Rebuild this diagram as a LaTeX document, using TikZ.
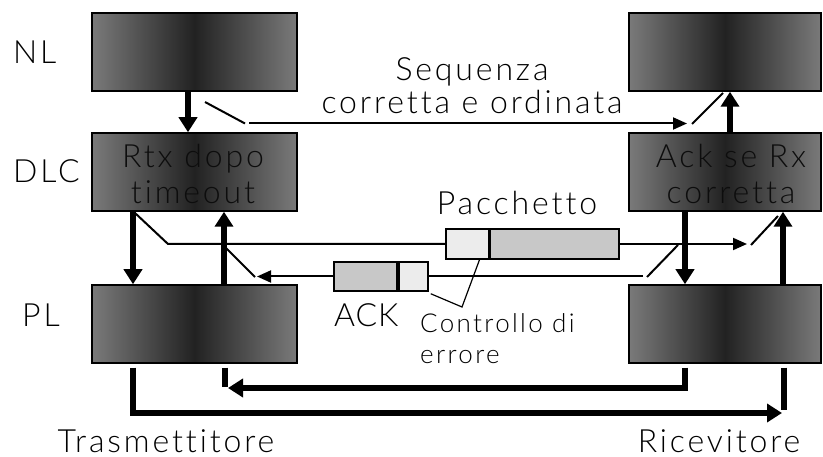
\documentclass[tikz,border=0pt]{standalone}
\usepackage{fontspec}
\setmainfont[LetterSpace=9,Ligatures=NoCommon,RawFeature=-liga]{Lato Light}
\newfontfamily\ackfont[LetterSpace=3]{Lato Light}
\usetikzlibrary{arrows.meta}
\definecolor{boxedge}{HTML}{7A7A7A}
\definecolor{boxmid}{HTML}{222222}
\definecolor{pktlight}{HTML}{ECECEC}
\definecolor{pktdark}{HTML}{C8C8C8}
\begin{document}
\begin{tikzpicture}[x=1pt,y=-1pt,
  blk/.style={draw=black, line width=1.5pt, left color=boxedge, right color=boxedge, middle color=boxmid, minimum height=78pt, inner sep=0},
  blkL/.style={blk, minimum width=205pt},
  blkR/.style={blk, minimum width=192pt},
  txt/.style={inner sep=0, text depth=0pt, font=\fontsize{32}{36}\selectfont, text=black},
  intxt/.style={inner sep=0, text depth=0pt, font=\fontsize{32}{36}\selectfont, text=black!95},
  small/.style={inner sep=0, text depth=0pt, font=\fontsize{26}{30}\selectfont, text=black},
  pkt/.style={draw=black, line width=1.5pt, inner sep=0, minimum height=29pt},
  thk/.style={line width=6pt, -{Triangle[length=15pt,width=18pt]}},
  thkline/.style={line width=6pt},
  thn/.style={line width=2pt, -{Triangle[length=14pt,width=12pt]}},
  lev/.style={line width=2pt},
]
\useasboundingbox (0,0) rectangle (823,457);
% boxes
\node[blkL] (nlL) at (194.5,52) {};
\node[blkL] (dlcL) at (194.5,172) {};
\node[blkL] (plL) at (194.5,324) {};
\node[blkR] (nlR) at (725,52) {};
\node[blkR] (dlcR) at (725,172) {};
\node[blkR] (plR) at (725,324) {};
% layer labels
\node[txt, anchor=base west] (lNL) at (13,64) {NL};
\node[txt, anchor=base west] (lDLC) at (13,183) {DLC};
\node[txt, anchor=base west] (lPL) at (22,327) {PL};
% texts in boxes
\node[intxt, anchor=base] (rtx1) at (193,168) {Rtx dopo};
\node[intxt, anchor=base] (rtx2) at (193,204) {timeout};
\node[intxt, anchor=base] (ack1) at (731,168) {Ack se Rx};
\node[intxt, anchor=base] (ack2) at (731,204) {corretta};
% sequence label
\node[txt, anchor=base] (seq1) at (472,81) {Sequenza};
\node[txt, anchor=base] (seq2) at (472,114) {corretta e ordinata};
% packets
\node[pkt, fill=pktlight, minimum width=43pt, minimum height=30pt] (pktA) at (467.5,244) {};
\node[pkt, fill=pktdark, minimum width=129pt, minimum height=30pt] (pktB) at (554.5,244) {};
\node[pkt, fill=pktdark, minimum width=63pt] (ackA) at (365.5,276.5) {};
\node[pkt, fill=pktlight, minimum width=29pt] (ackB) at (413.5,276.5) {};
\node[txt, anchor=base] (pktlbl) at (517,215) {Pacchetto};
\node[txt, anchor=base west, font=\ackfont\fontsize{32}{36}\selectfont] (acklbl) at (334,327) {ACK};
\node[small, anchor=base west] (ctl1) at (420,333) {Controllo di};
\node[small, anchor=base west] (ctl2) at (420,364) {errore};
\node[txt, anchor=base] (tx) at (166,452) {Trasmettitore};
\node[txt, anchor=base] (rx) at (719,452) {Ricevitore};
% thick vertical arrows
\draw[thk] ([xshift=-6.5pt]nlL.south) -- ([xshift=-6.5pt]dlcL.north);
\draw[thk] ([xshift=-61.5pt]dlcL.south) -- ([xshift=-61.5pt]plL.north);
\draw[thk] ([xshift=29.5pt]plL.north) -- ([xshift=29.5pt]dlcL.south);
\draw[thk] ([xshift=5pt]dlcR.north) -- ([xshift=5pt]nlR.south);
\draw[thk] ([xshift=-40pt]dlcR.south) -- ([xshift=-40pt]plR.north);
\draw[thk] ([xshift=58pt]plR.north) -- ([xshift=58pt]dlcR.south);
% physical channel
\coordinate (busA) at (782,413);
\coordinate (busB) at (228,388);
\draw[thk] ([xshift=-61.5pt,yshift=-4pt]plL.south) |- (busA);
\draw[thkline] ([xshift=59pt,yshift=-4pt]plR.south) -- ++(0,42);
\draw[thk] ([xshift=-40pt,yshift=-4pt]plR.south) |- (busB);
\draw[thkline] ([xshift=30.5pt,yshift=-4pt]plL.south) -- ++(0,19);
% sequence switches
\coordinate (sA1) at (205,102);
\coordinate (sA2) at (245,123.5);
\coordinate (sB1) at (249,123.5);
\coordinate (sB2) at (687,123.5);
\coordinate (sC1) at (692,124);
\coordinate (sC2) at (723,93);
\draw[lev] (sA1) -- (sA2);
\draw[thn] (sB1) -- (sB2);
\draw[lev] (sC1) -- (sC2);
% packet path
\coordinate (pA1) at (135,213);
\coordinate (pA2) at (168,244);
\coordinate (pB) at (747,244);
\coordinate (pC1) at (751,245);
\coordinate (pC2) at (778,216);
\draw[lev] (pA1) -- (pA2) -- (pktA.west);
\draw[thn] (pktB.east) -- (pB);
\draw[lev] (pC1) -- (pC2);
% ack path
\coordinate (aA1) at (678,245);
\coordinate (aA2) at (647,277);
\coordinate (aB) at (643,276.5);
\coordinate (aC) at (257,276.5);
\coordinate (aD1) at (255,277);
\coordinate (aD2) at (226,248);
\draw[lev] (aA1) -- (aA2);
\draw[lev] (aB) -- (ackB.east);
\draw[thn] (ackA.west) -- (aC);
\draw[lev] (aD1) -- (aD2);
% error-check callout
\coordinate (cv) at (462,307);
\draw[line width=1.2pt] ([xshift=12pt]pktA.south) -- (cv) -- ([xshift=2pt,yshift=-2pt]ackB.south east);
\end{tikzpicture}
\end{document}
